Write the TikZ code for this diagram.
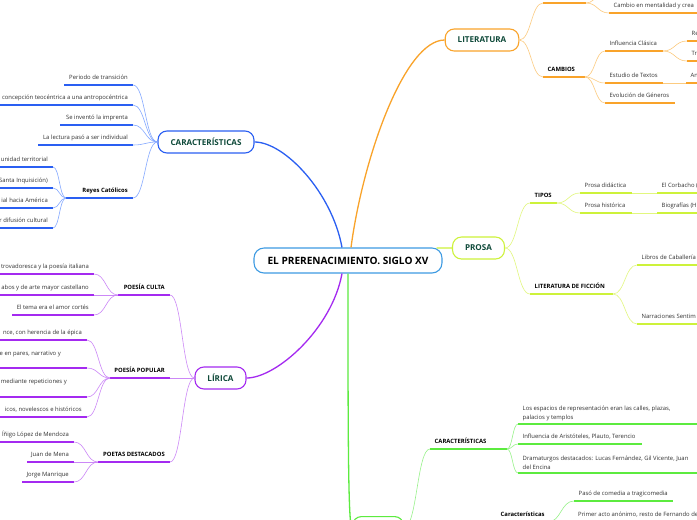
\documentclass[tikz,border=0pt]{standalone}
\usepackage{fontspec}
\setmainfont{Open Sans}
\usetikzlibrary{calc}
\definecolor{cblue}{HTML}{2A5FF2}
\definecolor{lblue}{HTML}{85A9FF}
\definecolor{corange}{HTML}{F9A32A}
\definecolor{lorange}{HTML}{FCCB80}
\definecolor{cyg}{HTML}{CDF23A}
\definecolor{lyg}{HTML}{E2F77E}
\definecolor{cpurple}{HTML}{A42AF0}
\definecolor{lpurple}{HTML}{CC88F7}
\definecolor{cgreen}{HTML}{5CEB3F}
\definecolor{lgreen}{HTML}{98F28A}
\definecolor{cteal}{HTML}{0F4A3A}
\definecolor{ccentre}{HTML}{3E9BE2}
\definecolor{ctext}{HTML}{333333}
\newcommand{\uln}[5]{%
  \coordinate (#1-l) at (#2,#4);
  \coordinate (#1-r) at (#3,#4);
  \draw[uline,#5] (#1-l) -- (#1-r);}
\newcommand{\conn}[3]{%
  \path ($(#2)!0.5!(#3)$) coordinate (cm);
  \draw[link,#1] (#2) .. controls (cm |- #2) and (cm |- #3) .. (#3);}
\tikzset{
  leaf/.style={font=\fontsize{5.9}{9}\selectfont, text=ctext, inner sep=0pt},
  subl/.style={font=\fontsize{5.9}{7}\selectfont\bfseries, text=black, inner sep=0pt},
  ltxt/.style={anchor=base east, xshift=-5pt, yshift=5.5pt},
  rtxt/.style={anchor=base west, xshift=4.5pt, yshift=5.5pt},
  rtxtii/.style={anchor=south west, align=left, xshift=4.5pt, yshift=3.2pt},
  uline/.style={line width=1.6pt},
  link/.style={line width=0.6pt},
  branch/.style={line width=1.3pt},
  mainnode/.style={draw, line width=1.1pt, rounded corners=9pt, fill=white, minimum height=22pt, inner xsep=12.5pt, inner ysep=0pt, font=\fontsize{8.1}{9}\selectfont\bfseries, text=cteal},
  centre/.style={draw=ccentre, line width=1.1pt, rounded corners=10pt, fill=white, minimum height=25pt, inner xsep=13.5pt, font=\fontsize{10.1}{11}\selectfont\bfseries, text=black},
}
\begin{document}
\begin{tikzpicture}[x=1pt,y=-1pt]
\useasboundingbox (0,0) rectangle (697,520);
\clip (0,0) rectangle (697,520);
\fill[white] (0,0) rectangle (697,520);

% main nodes
\node[centre] (c) at (348,260.5) {EL PRERENACIMIENTO. SIGLO XV};
\node[mainnode,draw=cblue] (cara) at (206,142) {CARACTERÍSTICAS};
\node[mainnode,draw=corange] (lit) at (482,40) {LITERATURA};
\node[mainnode,draw=cyg] (prosa) at (478.5,248) {PROSA};
\node[mainnode,draw=cpurple] (lir) at (220.5,378) {LÍRICA};
\node[mainnode,draw=cgreen,minimum width=51pt,anchor=north west] (teatro) at (352,516) {};

% branches from the centre
\draw[branch,cblue] ([xshift=-6pt]c.north) .. controls +(-10,-55) and +(30,0) .. (cara.east);
\draw[branch,corange] ([xshift=3pt]c.north) .. controls +(12,-90) and +(-40,0) .. (lit.west);
\draw[branch,cpurple] ([xshift=-6pt]c.south) .. controls +(-10,55) and +(30,0) .. (lir.east);
\draw[branch,cgreen] (c.south) .. controls +(0,150) and +(-4,0) .. (teatro.west);
\draw[branch,cyg] ([xshift=-6pt,yshift=-0.6pt]c.north east) -- (prosa.west);

% ---------- CARACTERISTICAS (blue)
\uln{b1}{64}{133}{85}{cblue}
\node[leaf,ltxt] (b1) at (b1-r) {Periodo de transición};
\uln{b2}{-5}{133}{105}{cblue}
\node[leaf,ltxt] (b2) at (b2-r) {concepción teocéntrica a una antropocéntrica};
\uln{b3}{60}{133}{125}{cblue}
\node[leaf,ltxt] (b3) at (b3-r) {Se inventó la imprenta};
\uln{b4}{38}{133}{145}{cblue}
\node[leaf,ltxt] (b4) at (b4-r) {La lectura pasó a ser individual};
\uln{b5}{66}{133}{198}{cblue}
\node[subl,ltxt] (b5) at (b5-r) {Reyes Católicos};
\foreach \t in {b1,b2,b3,b4,b5} {\conn{lblue}{cara.west}{\t-r}}

\uln{r1}{-5}{53}{167}{cblue}
\node[leaf,ltxt] (r1) at (r1-r) {unidad territorial};
\uln{r2}{-5}{53}{188}{cblue}
\node[leaf,ltxt] (r2) at (r2-r) {(Santa Inquisición)};
\uln{r3}{-5}{53}{208}{cblue}
\node[leaf,ltxt] (r3) at (r3-r) {ial hacia América};
\uln{r4}{-5}{53}{228}{cblue}
\node[leaf,ltxt] (r4) at (r4-r) {r difusión cultural};
\foreach \t in {r1,r2,r3,r4} {\conn{lblue}{b5-l}{\t-r}}

% ---------- LIRICA (purple)
\uln{pc}{118}{170}{295}{cpurple}
\node[subl,ltxt] (pc) at (pc-r) {POESÍA CULTA};
\uln{pp}{110}{170}{378}{cpurple}
\node[subl,ltxt] (pp) at (pp-r) {POESÍA POPULAR};
\uln{pd}{98}{170}{462}{cpurple}
\node[subl,ltxt] (pd) at (pd-r) {POETAS DESTACADOS};
\foreach \t in {pc,pp,pd} {\conn{lpurple}{lir.west}{\t-r}}

\uln{pc1}{-5}{94}{274}{cpurple}
\node[leaf,ltxt] (pc1) at (pc1-r) {trovadoresca y la poesía italiana};
\uln{pc2}{-5}{94}{295}{cpurple}
\node[leaf,ltxt] (pc2) at (pc2-r) {abos y de arte mayor castellano};
\uln{pc3}{12}{94}{315}{cpurple}
\node[leaf,ltxt] (pc3) at (pc3-r) {El tema era el amor cortés};
\foreach \t in {pc1,pc2,pc3} {\conn{lpurple}{pc-l}{\t-r}}

\uln{pp1}{-5}{87}{340}{cpurple}
\node[leaf,ltxt] (pp1) at (pp1-r) {nce, con herencia de la épica};
\uln{pp2}{-5}{87}{368}{cpurple}
\node[leaf,anchor=base east] (pp2) at (61,355) {e en pares, narrativo y};
\uln{pp3}{-5}{87}{397}{cpurple}
\node[leaf,anchor=base east] (pp3) at (67,383) {mediante repeticiones y};
\uln{pp4}{-5}{87}{417}{cpurple}
\node[leaf,ltxt] (pp4) at (pp4-r) {icos, novelescos e históricos};
\foreach \t in {pp1,pp2,pp3,pp4} {\conn{lpurple}{pp-l}{\t-r}}

\uln{pd1}{-5}{74}{442}{cpurple}
\node[leaf,ltxt] (pd1) at (pd1-r) {Íñigo López de Mendoza};
\uln{pd2}{27}{74}{462}{cpurple}
\node[leaf,ltxt] (pd2) at (pd2-r) {Juan de Mena};
\uln{pd3}{22}{74}{482}{cpurple}
\node[leaf,ltxt] (pd3) at (pd3-r) {Jorge Manrique};
\foreach \t in {pd1,pd2,pd3} {\conn{lpurple}{pd-l}{\t-r}}

% ---------- LITERATURA (orange)
\uln{o1}{543}{586}{3}{corange}
\coordinate (oup) at (609,-14);
\uln{o2}{609}{700}{13}{corange}
\node[leaf,rtxt] (o2) at (o2-l) {Cambio en mentalidad y crea};
\uln{cam}{543}{585}{77}{corange}
\node[subl,rtxt] (cam) at (cam-l) {CAMBIOS};
\conn{lorange}{lit.east}{o1-l}
\conn{lorange}{lit.east}{cam-l}
\conn{lorange}{o1-r}{o2-l}
\conn{lorange}{o1-r}{oup}

\uln{ic}{605}{663}{51}{corange}
\node[leaf,rtxt] (ic) at (ic-l) {Influencia Clásica};
\uln{et}{605}{663}{83}{corange}
\node[leaf,rtxt] (et) at (et-l) {Estudio de Textos};
\uln{eg}{605}{675}{103}{corange}
\node[leaf,rtxt] (eg) at (eg-l) {Evolución de Géneros};
\foreach \t in {ic,et,eg} {\conn{lorange}{cam-r}{\t-l}}

\uln{re}{687}{700}{41}{corange}
\node[leaf,rtxt] (re) at (re-l) {Re};
\uln{tr}{687}{700}{61}{corange}
\node[leaf,rtxt] (tr) at (tr-l) {Tr};
\uln{an}{686}{700}{83}{corange}
\node[leaf,rtxt] (an) at (an-l) {An};
\conn{lorange}{ic-r}{re-l}
\conn{lorange}{ic-r}{tr-l}
\conn{lorange}{et-r}{an-l}

% ---------- PROSA (yellow green)
\uln{tip}{530}{557}{203}{cyg}
\node[subl,rtxt] (tip) at (tip-l) {TIPOS};
\uln{ldf}{530}{613}{294}{cyg}
\node[subl,rtxt] (ldf) at (ldf-l) {LITERATURA DE FICCIÓN};
\conn{lyg}{prosa.east}{tip-l}
\conn{lyg}{prosa.east}{ldf-l}

\uln{pdi}{580}{632}{193}{cyg}
\node[leaf,rtxt] (pdi) at (pdi-l) {Prosa didáctica};
\uln{phi}{580}{632}{213}{cyg}
\node[leaf,rtxt] (phi) at (phi-l) {Prosa histórica};
\conn{lyg}{tip-r}{pdi-l}
\conn{lyg}{tip-r}{phi-l}
\uln{cor}{657}{700}{193}{cyg}
\node[leaf,rtxt] (cor) at (cor-l) {El Corbacho (};
\uln{bio}{657}{700}{213}{cyg}
\node[leaf,rtxt] (bio) at (bio-l) {Biografías (H};
\conn{lyg}{pdi-r}{cor-l}
\conn{lyg}{phi-r}{bio-l}

\uln{lca}{637}{700}{265}{cyg}
\node[leaf,rtxt] (lca) at (lca-l) {Libros de Caballería};
\uln{nse}{637}{700}{324}{cyg}
\node[leaf,rtxt] (nse) at (nse-l) {Narraciones Sentim};
\conn{lyg}{ldf-r}{lca-l}
\conn{lyg}{ldf-r}{nse-l}

% ---------- TEATRO (green)
\uln{gcar}{430}{507}{449}{cgreen}
\node[subl,rtxt] (gcar) at (gcar-l) {CARACTERÍSTICAS};
\uln{gcr}{496}{548}{522}{cgreen}
\node[subl,rtxt] (gcr) at (gcr-l) {Características};
\conn{lgreen}{teatro.east}{gcar-l}
\conn{lgreen}{teatro.east}{gcr-l}

\uln{g1}{518}{700}{424}{cgreen}
\node[leaf,rtxtii] (g1) at (g1-l) {Los espacios de representación eran las calles, plazas,\\palacios y templos};
\uln{g2}{518}{642}{444}{cgreen}
\node[leaf,rtxt] (g2) at (g2-l) {Influencia de Aristóteles, Plauto, Terencio};
\uln{g3}{518}{700}{473}{cgreen}
\node[leaf,rtxtii] (g3) at (g3-l) {Dramaturgos destacados: Lucas Fernández, Gil Vicente, Juan\\del Encina};
\foreach \t in {g1,g2,g3} {\conn{lgreen}{gcar-r}{\t-l}}

\uln{gp1}{574}{673}{501}{cgreen}
\node[leaf,rtxt] (gp1) at (gp1-l) {Pasó de comedia a tragicomedia};
\uln{gp2}{574}{700}{535}{cgreen}
\node[leaf,anchor=base west] (gp2) at (578,516) {Primer acto anónimo, resto de Fernando de};
\conn{lgreen}{gcr-r}{gp1-l}
\conn{lgreen}{gcr-r}{gp2-l}
\end{tikzpicture}
\end{document}
